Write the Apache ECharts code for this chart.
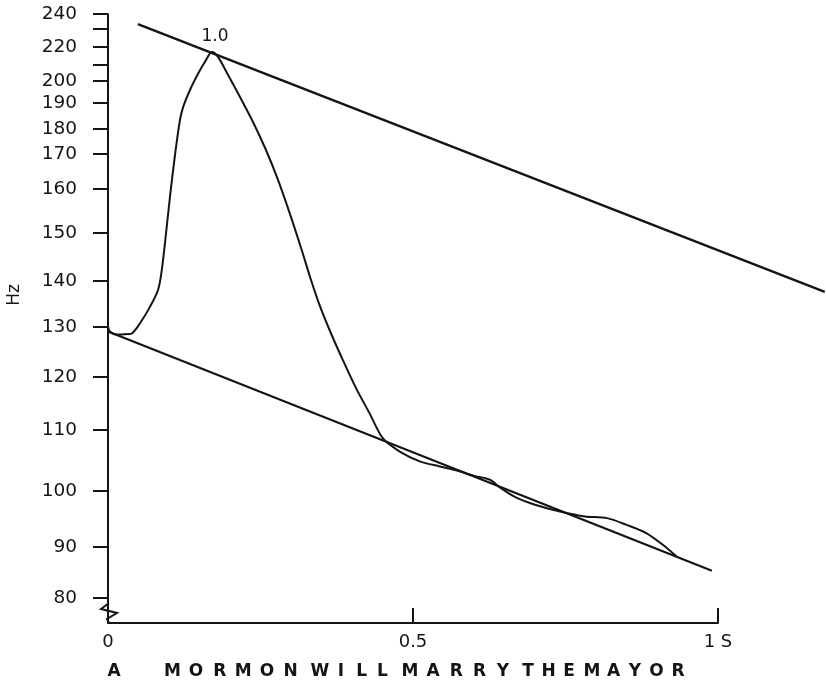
<!DOCTYPE html>
<html><head><meta charset="utf-8">
<script src="https://cdn.jsdelivr.net/npm/echarts@6/dist/echarts.min.js"></script>
<style>html,body{margin:0;padding:0;background:#fff}#c{width:826px;height:682px}</style>
</head><body><div id="c"></div>
<script>
// The figure's Hz axis is hand-drawn (not logarithmic): tick value -> position along the axis
const scaleHz  = [80, 90, 100, 110, 120, 130, 140, 150, 160, 170, 180, 190, 200, 210, 220, 230, 240];
const scalePos = [25, 76.3, 132.3, 193, 246, 296, 342.3, 390, 434, 469, 494, 520, 542, 558, 576.3, 594, 609];
const labelledHz = [80, 90, 100, 110, 120, 130, 140, 150, 160, 170, 180, 190, 200, 220, 240];

// F0 contour (time in s, Hz)
const contourTime = [0, 0.003, 0.014, 0.033, 0.039, 0.0525, 0.069, 0.082, 0.0877, 0.0934, 0.1016, 0.1098, 0.118, 0.1234, 0.1344, 0.148, 0.159, 0.1705, 0.1803, 0.1951, 0.2164, 0.2377, 0.259, 0.2787, 0.2984, 0.3164, 0.3328, 0.3475, 0.3639, 0.382, 0.4066, 0.4295, 0.4508, 0.479, 0.512, 0.544, 0.569, 0.602, 0.626, 0.643, 0.667, 0.700, 0.741, 0.782, 0.818, 0.850, 0.883, 0.910, 0.932];
const contourHz   = [130.2, 129.1, 128.5, 128.6, 128.7, 130.8, 134.4, 138.0, 141.8, 147.9, 158.2, 169.7, 183.5, 188.6, 195.9, 204.8, 211.8, 217.1, 214.4, 205.0, 192.7, 182.7, 171.6, 162.6, 154.3, 146.9, 140.15, 134.5, 129.2, 124.2, 117.9, 113.0, 108.6, 106.4, 104.8, 104.0, 103.4, 102.4, 101.8, 100.5, 98.9, 97.5, 96.3, 95.4, 95.1, 93.9, 92.4, 90.3, 88.1];
const peakLabel = '1.0';

// declination lines
const topLineTime  = [0.049, 1.175];
const topLineHz    = [233.3, 137.6];
const baseLineTime = [0, 0.99];
const baseLineHz   = [129.1, 85.3];

const xTickValues = [0, 0.5, 1];
const xTickLabels = ['0', '0.5', '1 S'];
const sentenceWords = ['A', 'MORMON', 'WILL', 'MARRY', 'THE', 'MAYOR'];

function hzToPos(hz) {
  let i = 0;
  while (i < scaleHz.length - 2 && hz > scaleHz[i + 1]) i++;
  const f = (hz - scaleHz[i]) / (scaleHz[i + 1] - scaleHz[i]);
  return scalePos[i] + f * (scalePos[i + 1] - scalePos[i]);
}
function posToLabel(p) {
  for (let i = 0; i < scalePos.length; i++) if (Math.abs(scalePos[i] - p) < 0.01) return String(scaleHz[i]);
  return '';
}
const pair = (ts, hs) => ts.map((t, i) => [t, hzToPos(hs[i])]);

const ink = '#141414';
const font = '"DejaVu Sans", Verdana, sans-serif';

let peakIdx = 0;
contourHz.forEach((v, i) => { if (v > contourHz[peakIdx]) peakIdx = i; });
const contourData = pair(contourTime, contourHz);

// sentence letters laid out with wide letter spacing
const wordLayout = [[114, 0], [172.5, 23.6], [320, 20.8], [410, 23.2], [528, 20.5], [592, 21.5]];
const letters = [];
sentenceWords.forEach((w, wi) => {
  [...w].forEach((ch, ci) => {
    letters.push({ type: 'text', x: wordLayout[wi][0] + ci * wordLayout[wi][1], y: 672,
      style: { text: ch, fill: ink, font: 'bold 17px ' + font, textAlign: 'center', textVerticalAlign: 'middle' } });
  });
});

const FULL_T = 718 / 610; // hidden overlay axis reaching the right edge, same seconds scale

const chart = echarts.init(document.getElementById('c'));
chart.setOption({
  backgroundColor: '#fff',
  animation: false,
  grid: [
    { left: 108, right: 108, top: 14, bottom: 59 },
    { left: 108, right: 0, top: 14, bottom: 59 }
  ],
  xAxis: [{
    type: 'value', min: 0, max: 1, gridIndex: 0,
    axisLine: { lineStyle: { color: ink, width: 2 } },
    axisTick: { show: true, inside: true, length: 15, customValues: [0.5, 1], lineStyle: { color: ink, width: 2 } },
    axisLabel: { customValues: xTickValues, formatter: v => xTickLabels[xTickValues.indexOf(v)] ?? '', color: ink, fontSize: 18, fontFamily: font, margin: 10 },
    splitLine: { show: false }
  }, {
    type: 'value', min: 0, max: FULL_T, gridIndex: 1, show: false
  }],
  yAxis: [{
    type: 'value', min: 0, max: 609, gridIndex: 0,
    axisLine: { show: true, lineStyle: { color: ink, width: 2 } },
    axisTick: { show: true, length: 15, customValues: scalePos, lineStyle: { color: ink, width: 2 } },
    axisLabel: { customValues: labelledHz.map(hzToPos), formatter: posToLabel, color: ink, fontSize: 18.5, fontFamily: font, margin: 31 },
    splitLine: { show: false }
  }, {
    type: 'value', min: 0, max: 609, gridIndex: 1, show: false
  }],
  graphic: [
    { type: 'text', x: 15, y: 295, rotation: Math.PI / 2,
      style: { text: 'Hz', fill: ink, font: '17px ' + font, textAlign: 'center', textVerticalAlign: 'middle' } },
    { type: 'polyline', shape: { points: [[109, 603], [101, 609], [117, 613], [107, 619], [109, 623]] },
      style: { stroke: ink, lineWidth: 2, fill: null } },
    ...letters
  ],
  series: [
    { type: 'line', xAxisIndex: 1, yAxisIndex: 1, data: pair(topLineTime, topLineHz), showSymbol: false, silent: true,
      lineStyle: { color: ink, width: 2.4 } },
    { type: 'line', data: pair(baseLineTime, baseLineHz), clip: false, showSymbol: false, silent: true,
      lineStyle: { color: ink, width: 2.2 } },
    { type: 'line', data: contourData, smooth: 0.3, clip: false, showSymbol: false, silent: true,
      lineStyle: { color: ink, width: 2 },
      markPoint: {
        symbol: 'circle', symbolSize: 0, silent: true,
        label: { show: true, formatter: peakLabel, position: 'top', distance: 7, offset: [3, 0], color: ink, fontSize: 17, fontFamily: font },
        data: [{ coord: contourData[peakIdx] }]
      } }
  ]
});
</script></body></html>
